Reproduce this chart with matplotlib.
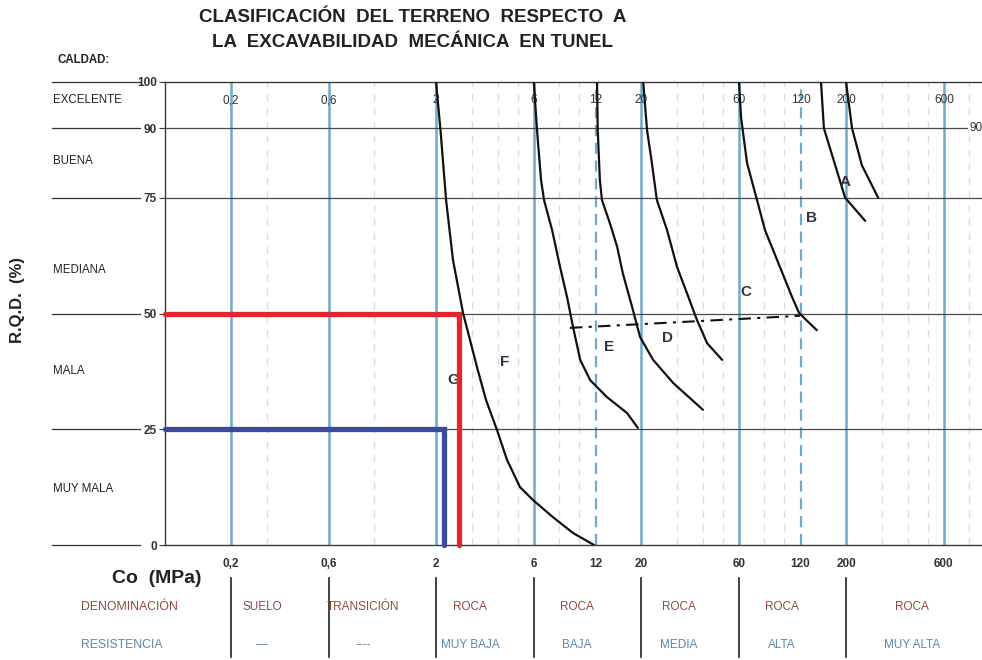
import matplotlib
matplotlib.use("Agg")
import matplotlib.pyplot as plt
import matplotlib.transforms as mtransforms

plt.rcParams['font.family'] = ['Liberation Sans', 'DejaVu Sans']

# ---- data -------------------------------------------------------------
rqd_levels = [0, 25, 50, 75, 90, 100]
quality_names = ["EXCELENTE", "BUENA", "MEDIANA", "MALA", "MUY MALA"]
quality_y = [96, 83, 59.5, 37.5, 12]

class_limits = [0.2, 0.6, 2, 6, 20, 60, 200, 600]
half_limits = [12, 120]
minor_lines = [0.3, 1, 3, 4, 5, 8, 10, 30, 40, 50, 80, 100, 300, 400, 500, 800]
tick_values = [0.2, 0.6, 2, 6, 12, 20, 60, 120, 200, 600]
tick_labels = ["0,2", "0,6", "2", "6", "12", "20", "60", "120", "200", "600"]

# excavability boundary curves: Co (MPa) vs RQD (%)
curve1_co = [2.0, 2.1, 2.24, 2.42, 2.71, 2.93, 3.17, 3.51, 3.97, 4.44, 5.14, 5.95, 7.45, 9.32, 11.8]
curve1_rqd = [100, 90, 74.5, 61.6, 50.1, 44.3, 38.4, 31.3, 24.8, 18.4, 12.5, 9.7, 6.0, 2.6, 0]
curve2_co = [6.0, 6.22, 6.51, 6.73, 7.37, 8.06, 8.71, 9.32, 10.1, 11.3, 13.6, 17.1, 19.3]
curve2_rqd = [100, 89.6, 78.8, 74.5, 68.0, 60.0, 53.6, 47.1, 40.0, 35.6, 32.0, 28.5, 25.3]
curve3_co = [12.2, 12.3, 12.6, 12.9, 14.1, 15.3, 16.3, 18.1, 19.8, 22.9, 28.7, 40.1]
curve3_rqd = [100, 89.6, 78.8, 74.5, 69.5, 64.4, 58.7, 51.4, 44.9, 40.0, 35.0, 29.2]
curve4_co = [20.5, 21.4, 22.6, 23.9, 26.8, 30.0, 33.5, 37.5, 42.0, 49.7]
curve4_rqd = [100, 89.6, 82.5, 74.5, 68.0, 60.0, 54.4, 48.6, 43.6, 40.0]
curve5_co = [60.1, 61.5, 65.8, 73.6, 80.5, 95.3, 109, 118, 144]
curve5_rqd = [100, 92.4, 82.5, 74.5, 68.0, 60.0, 53.6, 50.1, 46.4]
curve6_co = [151, 156, 198, 248]
curve6_rqd = [100, 90, 75, 70]
curve7_co = [200, 214, 239, 287]
curve7_rqd = [100, 90, 82, 75]

dashdot_co = [9.0, 119]
dashdot_rqd = [46.9, 49.5]

zone_letters = ["G", "F", "E", "D", "C", "B", "A"]
zone_co = [2.42, 4.3, 14, 27, 65, 136, 198]
zone_rqd = [35.6, 39.5, 42.8, 44.7, 54.6, 70.6, 78.4]

# worked examples
red_co, red_rqd = 2.6, 50
blue_co, blue_rqd = 2.2, 25

denominacion = ["SUELO", "TRANSICIÓN", "ROCA", "ROCA", "ROCA", "ROCA", "ROCA"]
resistencia = ["—", "----", "MUY BAJA", "BAJA", "MEDIA", "ALTA", "MUY ALTA"]
cell_co = [0.283, 0.88, 2.93, 9.75, 30.6, 97.5, 420]
table_bounds = [0.2, 0.6, 2, 6, 20, 60, 200]

# ---- figure -----------------------------------------------------------
fig = plt.figure(figsize=(9.82, 6.60), dpi=100)
ax = fig.add_axes([0.168, 0.1742, 0.832, 0.7016])
ax.set_xscale("log")
ax.set_xlim(0.0953, 921)
ax.set_ylim(0, 100)

blue_grid = "#6fa9cc"
for v in minor_lines:
    ax.axvline(v, color="#d3dde4", lw=1.0, ls=(0, (5, 5)), zorder=1)
for v in class_limits:
    ax.axvline(v, color=blue_grid, lw=1.8, zorder=2)
for v in half_limits:
    ax.axvline(v, color=blue_grid, lw=1.6, ls=(0, (5, 3)), zorder=2)
for r in [25, 50, 75, 90]:
    ax.axhline(r, color="#4a4a4a", lw=0.9, zorder=2)

ax.spines["right"].set_visible(False)
for sp in ["top", "left", "bottom"]:
    ax.spines[sp].set_color("#3a3a3a")
    ax.spines[sp].set_linewidth(1.0)

curves = [(curve1_co, curve1_rqd), (curve2_co, curve2_rqd), (curve3_co, curve3_rqd),
          (curve4_co, curve4_rqd), (curve5_co, curve5_rqd), (curve6_co, curve6_rqd),
          (curve7_co, curve7_rqd)]
for cx, cy in curves:
    ax.plot(cx, cy, color="#111111", lw=1.6, zorder=4, solid_capstyle="round",
            solid_joinstyle="round")
ax.plot(dashdot_co, dashdot_rqd, color="#111111", lw=1.5, ls=(0, (6, 3, 1.5, 3)), zorder=4)

for lab, cx, cy in zip(zone_letters, zone_co, zone_rqd):
    ax.text(cx, cy, lab, fontsize=11, fontweight="bold", color="#333344",
            ha="center", va="center", zorder=5)

# example paths
ax.plot([ax.get_xlim()[0], red_co, red_co], [red_rqd, red_rqd, 0], color="#e3262b",
        lw=3.8, zorder=6, clip_on=False, solid_capstyle="round", solid_joinstyle="miter")
ax.plot([ax.get_xlim()[0], blue_co, blue_co], [blue_rqd, blue_rqd, 0], color="#3b4a9c",
        lw=3.8, zorder=6, clip_on=False, solid_capstyle="round", solid_joinstyle="miter")

# tick labels inside top of the chart
for v, lab in zip(tick_values, tick_labels):
    ax.text(v, 96.1, lab, fontsize=8.5, ha="center", va="center", color="#333333", zorder=3)
ax.text(0.985, 90, "90", transform=mtransforms.blended_transform_factory(ax.transAxes, ax.transData),
        fontsize=8.5, ha="left", va="center", color="#333333", clip_on=False,
        bbox=dict(facecolor="white", edgecolor="none", pad=1.0), zorder=3)

# bottom axis
ax.set_xticks(tick_values)
ax.set_xticklabels(tick_labels, fontsize=8.5, fontweight="bold", color="#333333")
ax.xaxis.set_minor_locator(matplotlib.ticker.NullLocator())
ax.tick_params(axis="x", length=0, pad=9)

# left axis
ax.set_yticks(rqd_levels)
ax.set_yticklabels([str(v) for v in rqd_levels], fontsize=8.5, fontweight="bold", color="#333333")
ax.tick_params(axis="y", length=4, width=0.8, pad=2, color="#3a3a3a")

ytrans = mtransforms.blended_transform_factory(ax.transAxes, ax.transData)
for r in rqd_levels:
    ax.plot([-0.138, -0.031], [r, r], transform=ytrans, color="#333333", lw=0.9, clip_on=False)
for name, yy in zip(quality_names, quality_y):
    ax.text(-0.137, yy, name, transform=ytrans, fontsize=8.3, ha="left", va="center",
            color="#222222", clip_on=False)
ax.text(-0.132, 104.8, "CALDAD:", transform=ytrans, fontsize=8.3, fontweight="bold",
        ha="left", va="center", color="#222222", clip_on=False)

fig.text(0.018, 0.545, "R.Q.D.  (%)", rotation=90, fontsize=12, fontweight="bold",
         ha="center", va="center", color="#222222")
fig.text(0.42, 0.973, "CLASIFICACIÓN  DEL TERRENO  RESPECTO  A", fontsize=13.5,
         fontweight="bold", ha="center", va="center", color="#222222")
fig.text(0.42, 0.936, "LA  EXCAVABILIDAD  MECÁNICA  EN TUNEL", fontsize=13.5,
         fontweight="bold", ha="center", va="center", color="#222222")
fig.text(0.16, 0.124, "Co  (MPa)", fontsize=14, fontweight="bold", ha="center",
         va="center", color="#222222")

# classification table below the axis
ttrans = mtransforms.blended_transform_factory(ax.transData, fig.transFigure)
for b in table_bounds:
    ax.plot([b, b], [0.124, 0.004], transform=ttrans, color="#222222", lw=1.2, clip_on=False)
fig.text(0.082, 0.081, "DENOMINACIÓN", fontsize=8.8, color="#8e4a3c", ha="left", va="center")
fig.text(0.082, 0.023, "RESISTENCIA", fontsize=8.8, color="#5e86a8", ha="left", va="center")
for d, r, cx in zip(denominacion, resistencia, cell_co):
    ax.text(cx, 0.081, d, transform=ttrans, fontsize=8.5, color="#8e4a3c", ha="center",
            va="center", clip_on=False)
    ax.text(cx, 0.023, r, transform=ttrans, fontsize=8.5, color="#5e86a8", ha="center",
            va="center", clip_on=False)

fig.savefig("out.png", dpi=100)
